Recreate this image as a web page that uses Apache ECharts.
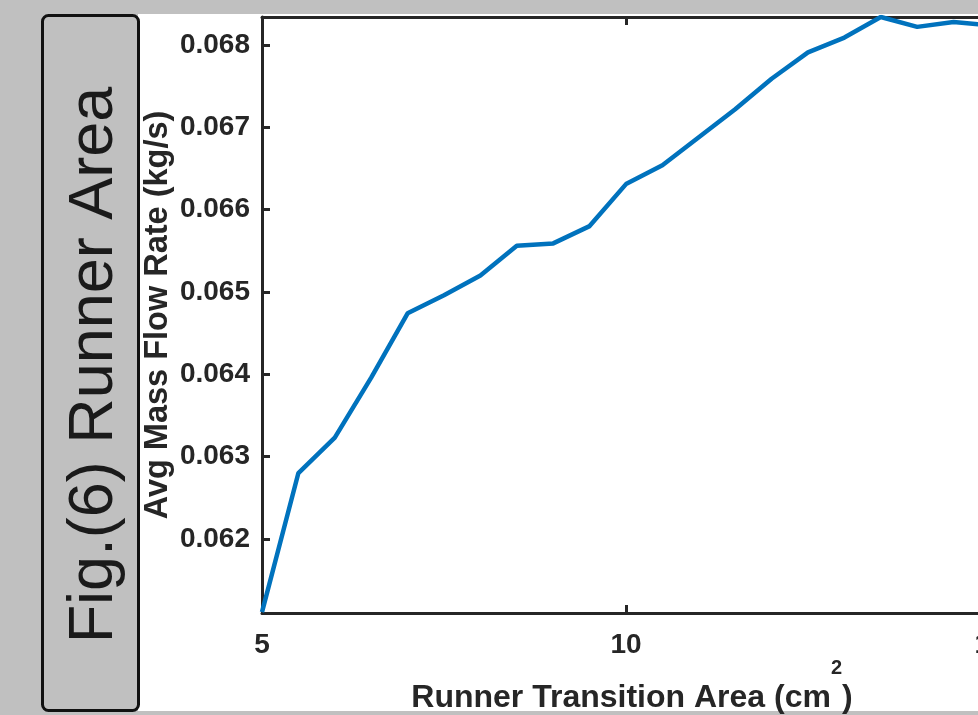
<!DOCTYPE html>
<html>
<head>
<meta charset="utf-8">
<script src="https://cdn.jsdelivr.net/npm/echarts@6/dist/echarts.min.js"></script>
<style>html,body{margin:0;padding:0;background:#c0c0c0;}#main{width:978px;height:715px;}</style>
</head>
<body>
<div id="main"></div>
<script>
// Data
var areaValues = [5, 5.5, 6, 6.5, 7, 7.5, 8, 8.5, 9, 9.5, 10, 10.5, 11, 11.5, 12, 12.5, 13, 13.5, 14, 14.5, 15];
var flowValues = [0.06111, 0.06280, 0.06323, 0.06396, 0.06474, 0.06496, 0.06520, 0.06556, 0.06559, 0.06580,
                  0.06631, 0.06654, 0.06688, 0.06722, 0.06759, 0.06791, 0.06809, 0.06834, 0.06822, 0.06828, 0.06824];
var xTickValues = [5, 10, 15];
var yTickValues = [0.062, 0.063, 0.064, 0.065, 0.066, 0.067, 0.068];
var xTitle = 'Runner Transition Area (cm';
var xTitleSup = '2';
var yTitle = 'Avg Mass Flow Rate (kg/s)';
var figLabel = 'Fig.(6) Runner Area';

var seriesData = areaValues.map(function (x, i) { return [x, flowValues[i]]; });

var FONT = '"Liberation Sans", Arial, Helvetica, sans-serif';
var INK = '#262626';

var chart = echarts.init(document.getElementById('main'), null, { renderer: 'canvas' });
chart.setOption({
  backgroundColor: '#c0c0c0',
  animation: false,
  grid: { left: 262, top: 17, width: 728, height: 596, outerBoundsMode: 'none', containLabel: false },
  graphic: [
    { type: 'rect', z: -5, shape: { x: 138, y: 14, width: 840, height: 697 }, style: { fill: '#ffffff' }, silent: true },
    { type: 'rect', z: 50, shape: { x: 42.5, y: 15.5, width: 96, height: 695, r: 6 },
      style: { fill: '#c0c0c0', stroke: '#111111', lineWidth: 3 }, silent: true },
    { type: 'text', z: 51, x: 95, y: 365, rotation: Math.PI / 2,
      style: { text: figLabel, fill: '#1a1a1a', font: '63px ' + FONT,
               align: 'center', verticalAlign: 'middle', textAlign: 'center', textVerticalAlign: 'middle' }, silent: true }
  ],
  xAxis: [
    {
      type: 'value', min: 5, max: 15, position: 'bottom',
      name: '{b|' + xTitle + '}{s|' + xTitleSup + '}{b|)}',
      nameLocation: 'middle', nameGap: 69, nameMoveOverlap: false,
      nameTextStyle: {
        padding: [0, 0, 0, 12],
        rich: {
          b: { fontSize: 32, fontWeight: 'bold', fontFamily: FONT, color: INK, lineHeight: 32, verticalAlign: 'bottom' },
          s: { fontSize: 20, fontWeight: 'bold', fontFamily: FONT, color: INK, lineHeight: 20, verticalAlign: 'bottom', padding: [0, 0, 36, 0] }
        }
      },
      axisLine: { show: true, onZero: false, lineStyle: { color: INK, width: 3 } },
      axisTick: { show: true, inside: true, length: 8, customValues: xTickValues, lineStyle: { color: INK, width: 3 } },
      axisLabel: { show: true, customValues: xTickValues, margin: 18, fontSize: 28, fontWeight: 'bold', fontFamily: FONT, color: INK },
      splitLine: { show: false }
    },
    {
      type: 'value', min: 5, max: 15, position: 'top',
      axisLine: { show: true, onZero: false, lineStyle: { color: INK, width: 3 } },
      axisTick: { show: true, inside: true, length: 8, customValues: xTickValues, lineStyle: { color: INK, width: 3 } },
      axisLabel: { show: false },
      splitLine: { show: false }
    }
  ],
  yAxis: [
    {
      type: 'value', min: 0.0611, max: 0.06834, position: 'left',
      name: yTitle, nameLocation: 'middle', nameGap: 87, nameRotate: 90, nameMoveOverlap: false,
      nameTextStyle: { fontSize: 32.5, fontWeight: 'bold', fontFamily: FONT, color: INK },
      axisLine: { show: true, onZero: false, lineStyle: { color: INK, width: 3 } },
      axisTick: { show: true, inside: true, length: 8, customValues: yTickValues, lineStyle: { color: INK, width: 3 } },
      axisLabel: { show: true, customValues: yTickValues, margin: 12, fontSize: 28, fontWeight: 'bold', fontFamily: FONT, color: INK,
                   formatter: function (v) { return v.toFixed(3); } },
      splitLine: { show: false }
    }
  ],
  series: [
    {
      type: 'line', xAxisIndex: 0, yAxisIndex: 0, data: seriesData,
      showSymbol: false, symbol: 'none', clip: true,
      lineStyle: { color: '#0072BD', width: 4.5 }
    }
  ]
});
</script>
</body>
</html>
